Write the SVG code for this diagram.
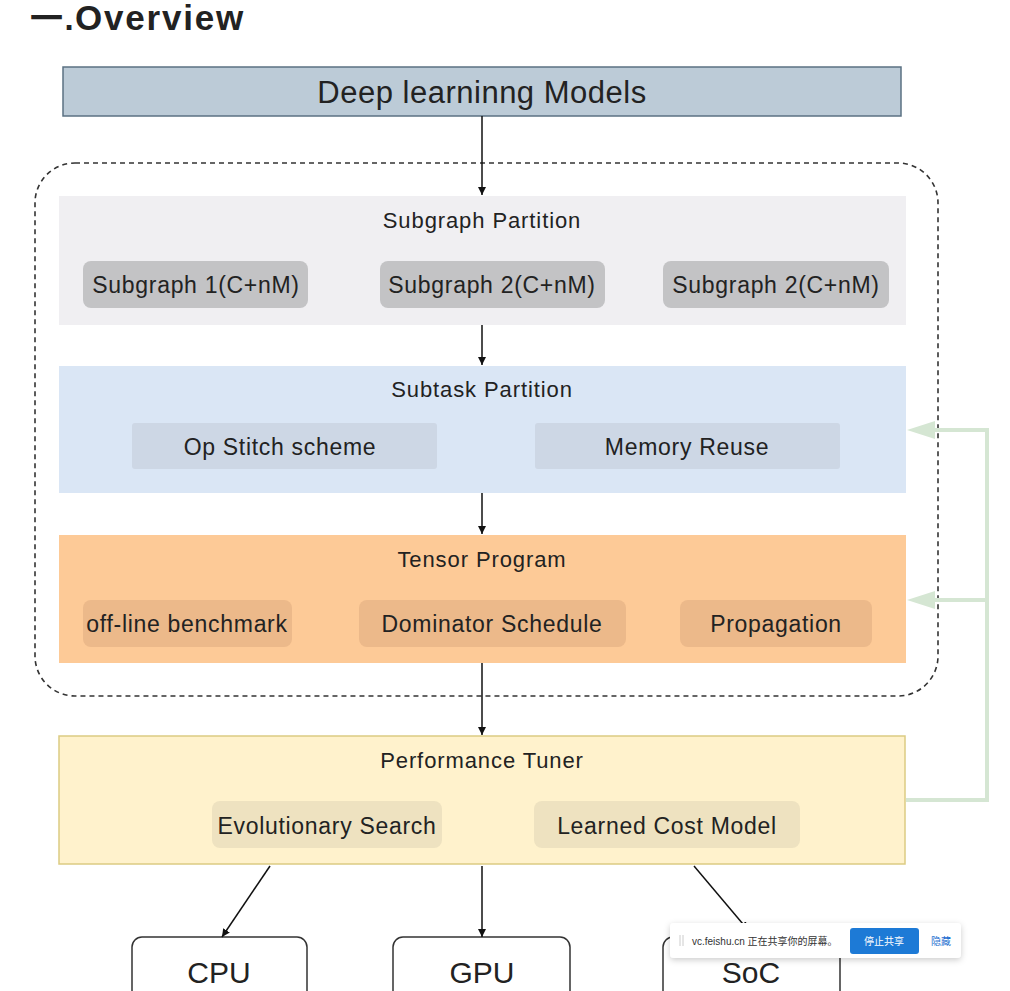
<svg xmlns="http://www.w3.org/2000/svg" width="1010" height="991" viewBox="0 0 1010 991">
<defs>
<style>
text{font-family:"Liberation Sans","Noto Sans CJK SC",Arial,sans-serif;fill:#222;}
.ttl{font-size:22px;text-anchor:middle;letter-spacing:0.9px;}
.lbl{font-size:23px;text-anchor:middle;letter-spacing:0.7px;}
.dev{font-size:30px;text-anchor:middle;}
.conn{stroke:#111;stroke-width:1.5;fill:none;}
.fb{stroke:#d5e6d3;stroke-width:4;fill:none;}
</style>
<marker id="ah" viewBox="0 0 10 10" refX="10" refY="5" markerWidth="8" markerHeight="9" markerUnits="userSpaceOnUse" orient="auto"><path d="M0,0 L10,5 L0,10 z" fill="#111"/></marker>
<filter id="sh" x="-10%" y="-30%" width="120%" height="160%"><feDropShadow dx="0" dy="2" stdDeviation="3" flood-color="#000" flood-opacity="0.2"/></filter>
</defs>
<rect width="1010" height="991" fill="#ffffff"/>
<text x="30" y="30" style="font-size:33px;font-weight:bold;fill:#222;letter-spacing:1.4px;">一.<tspan style="font-size:35px;letter-spacing:1.8px;">Overview</tspan></text>

<g id="models">
<rect x="63" y="67" width="838" height="49" fill="#bccbd7" stroke="#5b7183" stroke-width="1.5"/>
<text x="482" y="103" style="font-size:31px;text-anchor:middle;letter-spacing:0.5px;">Deep learninng Models</text>
</g>

<g id="container">
<rect x="35" y="163" width="903" height="533" rx="40" fill="none" stroke="#333" stroke-width="1.6" stroke-dasharray="5,4"/>
</g>

<g id="subgraph-partition">
<rect x="59" y="196" width="847" height="129" fill="#f0eff2"/>
<text class="ttl" x="482" y="228">Subgraph Partition</text>
<rect x="83" y="261" width="225" height="47" rx="8" fill="#c3c3c5"/>
<text class="lbl" x="196" y="293">Subgraph 1(C+nM)</text>
<rect x="380" y="261" width="225" height="47" rx="8" fill="#c3c3c5"/>
<text class="lbl" x="492" y="293">Subgraph 2(C+nM)</text>
<rect x="663" y="261" width="226" height="47" rx="8" fill="#c3c3c5"/>
<text class="lbl" x="776" y="293">Subgraph 2(C+nM)</text>
</g>

<g id="subtask-partition">
<rect x="59" y="366" width="847" height="127" fill="#dae6f5"/>
<text class="ttl" x="482" y="397">Subtask Partition</text>
<rect x="132" y="423" width="305" height="46" rx="3" fill="#cdd7e5"/>
<text class="lbl" x="280" y="455">Op Stitch scheme</text>
<rect x="535" y="423" width="305" height="46" rx="3" fill="#cdd7e5"/>
<text class="lbl" x="687" y="455">Memory Reuse</text>
</g>

<g id="tensor-program">
<rect x="59" y="535" width="847" height="128" fill="#fdca97"/>
<text class="ttl" x="482" y="567">Tensor Program</text>
<rect x="83" y="600" width="209" height="47" rx="8" fill="#ecb98a"/>
<text class="lbl" x="187" y="632">off-line benchmark</text>
<rect x="359" y="600" width="267" height="47" rx="8" fill="#ecb98a"/>
<text class="lbl" x="492" y="632">Dominator Schedule</text>
<rect x="680" y="600" width="192" height="47" rx="8" fill="#ecb98a"/>
<text class="lbl" x="776" y="632">Propagation</text>
</g>

<g id="performance-tuner">
<rect x="59" y="736" width="846" height="128" fill="#fff2cc" stroke="#dccb83" stroke-width="1.5"/>
<text class="ttl" x="482" y="768">Performance Tuner</text>
<rect x="212" y="801" width="230" height="47" rx="8" fill="#eee2c0"/>
<text class="lbl" x="327" y="834">Evolutionary Search</text>
<rect x="534" y="801" width="266" height="47" rx="8" fill="#eee2c0"/>
<text class="lbl" x="667" y="834">Learned Cost Model</text>
</g>

<g id="cpu">
<rect x="132" y="937" width="175" height="80" rx="10" fill="#fff" stroke="#333" stroke-width="1.5"/>
<text class="dev" x="219" y="983">CPU</text>
</g>
<g id="gpu">
<rect x="393" y="937" width="177" height="80" rx="10" fill="#fff" stroke="#333" stroke-width="1.5"/>
<text class="dev" x="482" y="983">GPU</text>
</g>
<g id="soc">
<rect x="663" y="937" width="177" height="80" rx="10" fill="#fff" stroke="#333" stroke-width="1.5"/>
<text class="dev" x="751" y="983">SoC</text>
</g>

<g id="connectors">
<line class="conn" x1="482" y1="116" x2="482" y2="195" marker-end="url(#ah)"/>
<line class="conn" x1="482" y1="325" x2="482" y2="365" marker-end="url(#ah)"/>
<line class="conn" x1="482" y1="493" x2="482" y2="534" marker-end="url(#ah)"/>
<line class="conn" x1="482" y1="663" x2="482" y2="735" marker-end="url(#ah)"/>
<line class="conn" x1="270" y1="866" x2="222" y2="937" marker-end="url(#ah)"/>
<line class="conn" x1="482" y1="866" x2="482" y2="937" marker-end="url(#ah)"/>
<line class="conn" x1="694" y1="866" x2="748" y2="930" marker-end="url(#ah)"/>
<polyline class="fb" points="906,800 987,800 987,430 925,430"/>
<line class="fb" x1="987" y1="600" x2="925" y2="600"/>
<path d="M907,430 L935,421 L935,439 z" fill="#d5e6d3"/>
<path d="M907,600 L935,591 L935,609 z" fill="#d5e6d3"/>
</g>

<g id="share-popup">
<rect x="670" y="923" width="291" height="35" rx="4" fill="#fff" filter="url(#sh)"/>
<line x1="680" y1="935" x2="680" y2="946" stroke="#ccc" stroke-width="1"/>
<line x1="683" y1="935" x2="683" y2="946" stroke="#ccc" stroke-width="1"/>
<text x="692" y="945" style="font-size:10px;fill:#333;">vc.feishu.cn 正在共享你的屏幕。</text>
<rect x="850" y="928" width="69" height="26" rx="3" fill="#1d7ad6"/>
<text x="884" y="945" style="font-size:10px;fill:#fff;text-anchor:middle;">停止共享</text>
<text x="941" y="945" style="font-size:10px;fill:#1d6fd0;text-anchor:middle;">隐藏</text>
</g>
</svg>
